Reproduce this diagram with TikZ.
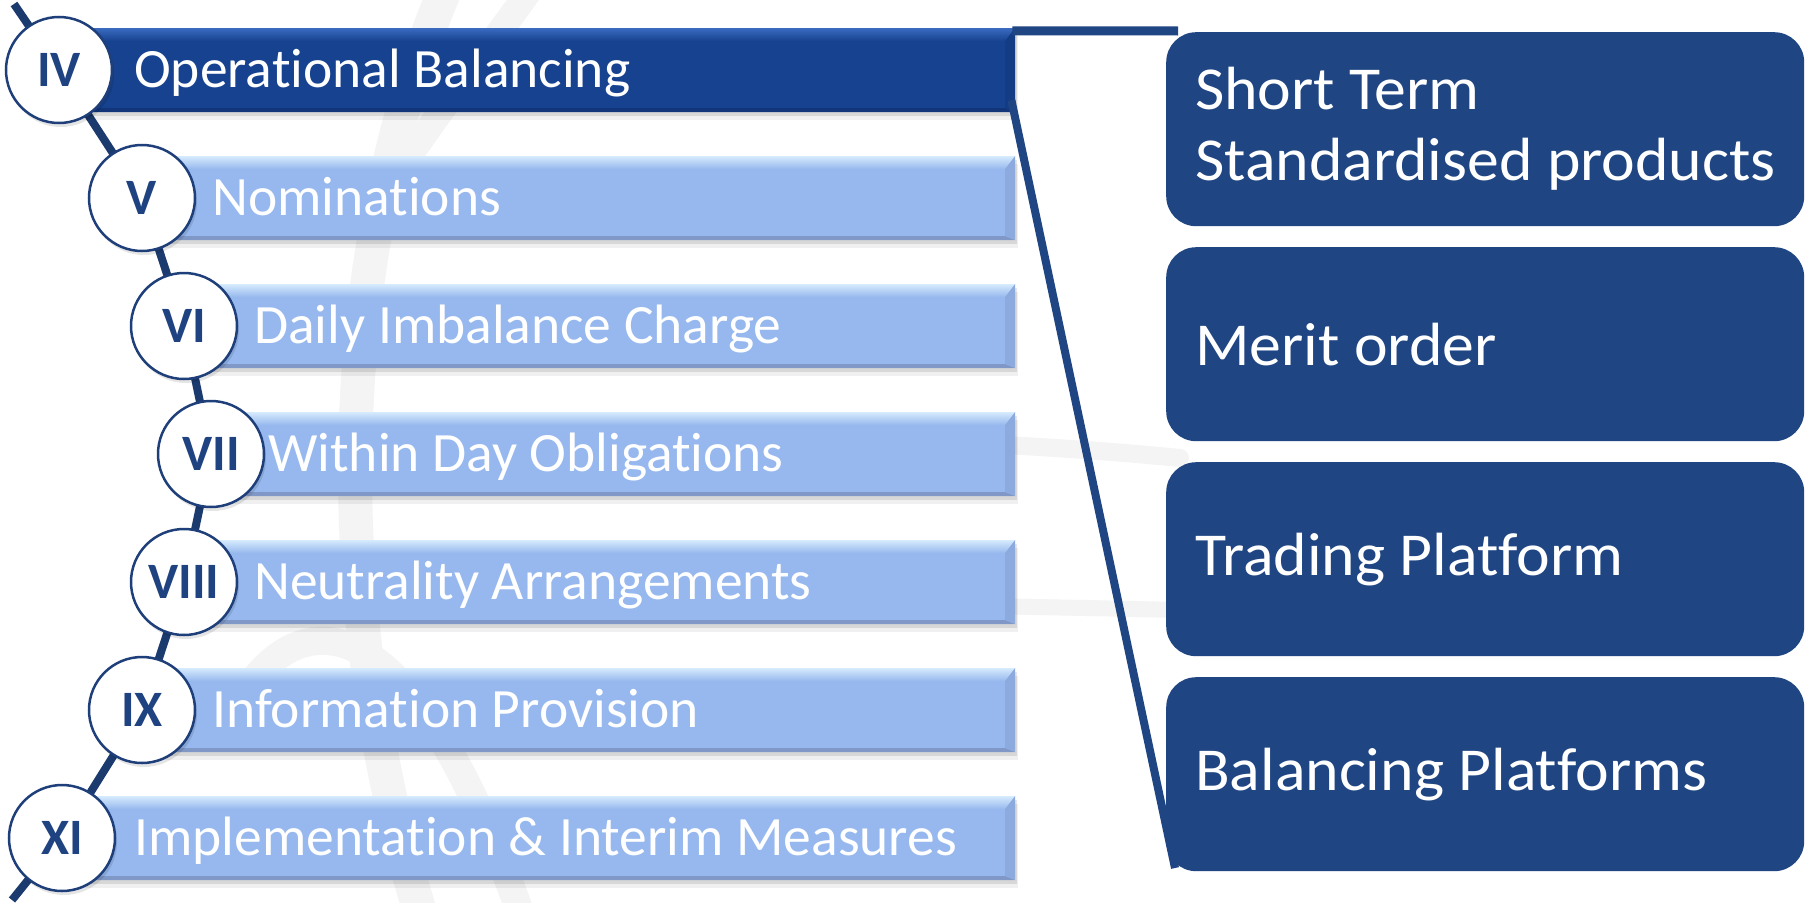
\documentclass[tikz,border=0pt]{standalone}
\usepackage{fontspec}
\setmainfont{Carlito}[Ligatures=NoCommon]
\newfontfamily\boxfont{Carlito}[Ligatures=NoCommon, FakeStretch=1.045]
\usetikzlibrary{shadows,backgrounds,calc}
\definecolor{spinec}{HTML}{1B3A6E}
\definecolor{circc}{HTML}{1F3F7A}
\definecolor{numc}{HTML}{1F4280}
\definecolor{lmain}{HTML}{96B8EE}
\definecolor{lhi}{HTML}{D6EBFD}
\definecolor{lbot}{HTML}{8098C6}
\definecolor{lside}{HTML}{8CAADD}
\definecolor{dmain}{HTML}{17428F}
\definecolor{dhi}{HTML}{3A6BC0}
\definecolor{dbot}{HTML}{12357A}
\definecolor{dside}{HTML}{133C84}
\definecolor{boxc}{HTML}{1F4583}
\definecolor{wmc}{HTML}{F4F4F4}
\newcommand\bevelfill[4]{%
  \coordinate (pbnw) at (path picture bounding box.north west);
  \coordinate (pbne) at (path picture bounding box.north east);
  \coordinate (pbsw) at (path picture bounding box.south west);
  \coordinate (pbse) at (path picture bounding box.south east);
  \shade[top color=#1, bottom color=#2] (pbnw) -- (pbne) -- ([xshift=-10pt,yshift=-13pt]pbne) -- ([yshift=-13pt]pbnw) -- cycle;
  \fill[#3] (pbsw) -- (pbse) -- ([xshift=-10pt,yshift=4pt]pbse) -- ([yshift=4pt]pbsw) -- cycle;
  \fill[#4] (pbne) -- (pbse) -- ([xshift=-10pt,yshift=4pt]pbse) -- ([xshift=-10pt,yshift=-13pt]pbne) -- cycle;
}
\tikzset{
  barbase/.style={rectangle, inner sep=0pt, minimum height=84pt, anchor=west,
    general shadow={fill=black, opacity=.10, shadow xshift=2pt, shadow yshift=-4pt},
    general shadow={fill=black, opacity=.06, shadow xshift=3pt, shadow yshift=-8pt}},
  lbar/.style={barbase, fill=lmain, path picture={\bevelfill{lhi}{lmain}{lbot}{lside}}},
  dbar/.style={barbase, fill=dmain, path picture={\bevelfill{dhi}{dmain}{dbot}{dside}}},
  bartext/.style={anchor=base west, inner sep=0pt, text=white, font=\fontsize{55.5}{66}\selectfont},
  numcirc/.style={circle, minimum size=106pt, inner sep=0pt, fill=white, draw=circc, line width=2.5pt,
    text=numc, font=\fontsize{51}{60}\selectfont\bfseries,
    general shadow={fill=black, opacity=.10, shadow xshift=2pt, shadow yshift=-4pt}},
  spine/.style={draw=spinec, line width=8pt},
  callout/.style={draw=boxc, line width=8pt},
  rbox/.style={rectangle, rounded corners=30pt, fill=boxc, minimum width=638pt, minimum height=194pt, inner sep=0pt, anchor=north west},
  rtext/.style={anchor=west, align=left, inner sep=0pt, text=white, font=\boxfont\fontsize{61}{71}\selectfont},
  wm/.style={draw=wmc, line width=34pt, line cap=round},
}
\begin{document}
\begin{tikzpicture}[x=1pt,y=-1pt]
\useasboundingbox (0,0) rectangle (1806,902);
% bars
\node[dbar, minimum width=956pt] (b4) at (59,70) {};
\node[lbar, minimum width=873pt] (b5) at (142,198) {};
\node[lbar, minimum width=831pt] (b6) at (184,326) {};
\node[lbar, minimum width=804pt] (b7) at (211,454) {};
\node[lbar, minimum width=831pt] (b8) at (184,582) {};
\node[lbar, minimum width=873pt] (b9) at (142,710) {};
\node[lbar, minimum width=953pt] (b11) at (62,838) {};
% bar texts
\node[bartext] (t4) at (134,87) {Operational Balancing};
\node[bartext] (t5) at (212,215) {Nominations};
\node[bartext] (t6) at (254,343) {Daily Imbalance Charge};
\node[bartext] (t7) at (268,471) {Within Day Obligations};
\node[bartext] (t8) at (254,599) {Neutrality Arrangements};
\node[bartext] (t9) at (212,727) {Information Provision};
\node[bartext] (t11) at (134,855) {Implementation \& Interim Measures};
% circles
\node[numcirc] (c4) at (59,70) {IV};
\node[numcirc] (c5) at (142,198) {V};
\node[numcirc] (c6) at (184,326) {VI};
\node[numcirc] (c7) at (211,454) {VII};
\node[numcirc] (c8) at (184,582) {VIII};
\node[numcirc] (c9) at (142,710) {IX};
\node[numcirc] (c11) at (62,838) {XI};
% spine ends
\coordinate (sp0) at (14,4);
\coordinate (sp1) at (12,900);
% right boxes
\node[rbox] (r1) at (1166,32) {};
\node[rbox] (r2) at (1166,247) {};
\node[rbox] (r3) at (1166,462) {};
\node[rbox] (r4) at (1166,677) {};
\node[rtext] (s1) at ([xshift=29pt]r1.west) {Short Term\\Standardised products};
\node[rtext] (s2) at ([xshift=29pt]r2.west) {Merit order};
\node[rtext] (s3) at ([xshift=29pt]r3.west) {Trading Platform};
\node[rtext] (s4) at ([xshift=29pt]r4.west) {Balancing Platforms};
% callout lines
\coordinate (ct) at (1178,31);
\coordinate (cb) at (1175,868);
\draw[callout, line width=9pt] ([xshift=-3pt,yshift=-3pt]b4.north east) -- (ct);
\draw[callout] ([xshift=-4pt,yshift=12pt]b4.south east) -- (cb);
\begin{scope}[on background layer]
  \fill[white] (0,0) rectangle (1806,902);
  \draw[wm] (445,-10) .. controls (335,250) and (325,600) .. (420,912);
  \draw[wm, line width=26pt] (530,-10) .. controls (480,60) and (440,110) .. (400,170);
  \draw[wm, line width=28pt] (240,700) .. controls (300,600) and (410,600) .. (520,912);
  \draw[wm, line width=18pt] (500,440) .. controls (700,430) and (1000,440) .. (1180,458);
  \draw[wm, line width=16pt] (520,606) .. controls (700,600) and (1000,606) .. (1180,610);
  \draw[spine] (sp0) -- (c4.center) -- (c5.center) -- (c6.center) -- (c7.center) -- (c8.center) -- (c9.center) -- (c11.center) -- (sp1);
\end{scope}
\end{tikzpicture}
\end{document}
